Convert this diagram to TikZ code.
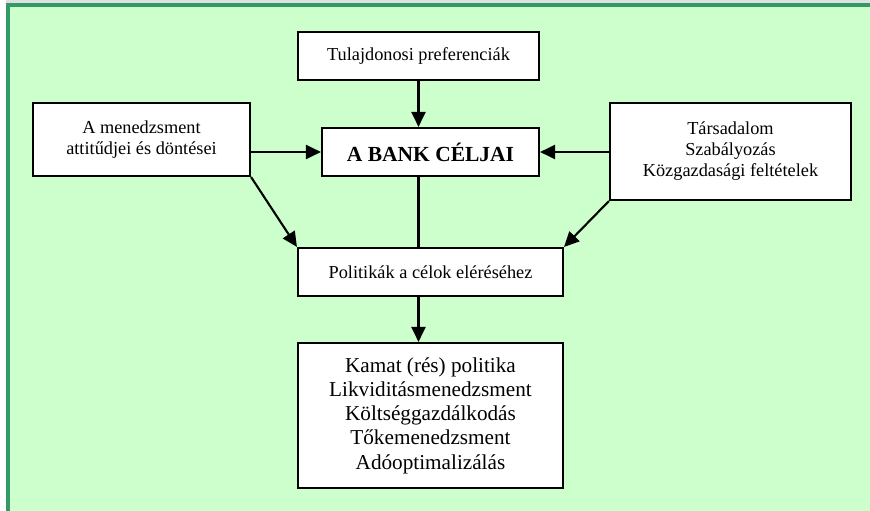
\documentclass[tikz,border=0pt]{standalone}
\usepackage{fontspec}
\setmainfont{Liberation Serif}
\usepackage{tikz}
\usetikzlibrary{arrows.meta}
\definecolor{bggreen}{HTML}{CCFFCC}
\definecolor{framegreen}{HTML}{339966}
\tikzset{>=stealth}
\tikzstyle{box} = [draw, line width=2.1pt, fill=white, inner sep=0pt, align=center,
  font=\fontsize{18.3}{21}\selectfont]
\tikzstyle{line} = [draw, line width=2.1pt, -{Triangle[length=15pt,width=14pt]}]

\begin{document}
\begin{tikzpicture}[x=1pt, y=1pt]
    \useasboundingbox (0,0) rectangle (870,-511);
    %% Background
    \fill [black!12] (6,0) rectangle (870,-3.5);
    \fill [bggreen] (6,-3.5) rectangle (870,-511);
    \fill [framegreen] (6,-3.5) rectangle (10,-511);
    \fill [framegreen] (6,-3.5) rectangle (870,-7);
    %% Boxes
    \node [box, minimum width=241pt, minimum height=48pt] (tul) at (418.5,-56) {Tulajdonosi preferenciák};
    \node [box, minimum width=217pt, minimum height=48pt, font=\fontsize{21.5}{25}\selectfont\bfseries] (bank) at (430.5,-152) {A BANK CÉLJAI};
    \node [box, minimum width=217pt, minimum height=73pt] (mgmt) at (141.5,-139.5) {A menedzsment\\attitűdjei és döntései};
    \node [box, minimum width=241pt, minimum height=97pt] (env) at (730.5,-151.5) {Társadalom\\Szabályozás\\Közgazdasági feltételek};
    \node [box, minimum width=265pt, minimum height=48pt] (pol) at (430.5,-272) {Politikák a célok eléréséhez};
    \node [box, minimum width=265pt, minimum height=145pt, font=\fontsize{21.2}{24.3}\selectfont] (tools) at (430.5,-415.5) {Kamat (rés) politika\\Likviditásmenedzsment\\Költséggazdálkodás\\Tőkemenedzsment\\Adóoptimalizálás};
    %% Flows
    \path [line] (tul.south) to (tul.south |- bank.north);
    \path [line] (mgmt.east |- bank.west) to (bank.west);
    \path [line] (env.west |- bank.east) to (bank.east);
    \draw [line width=2.1pt] (tul.south |- bank.south) -- (tul.south |- pol.north);
    \path [line] (mgmt.south east) to (pol.north west);
    \path [line] (env.south west) to (pol.north east);
    \path [line] (tul.south |- pol.south) to (tul.south |- tools.north);
\end{tikzpicture}
\end{document}
